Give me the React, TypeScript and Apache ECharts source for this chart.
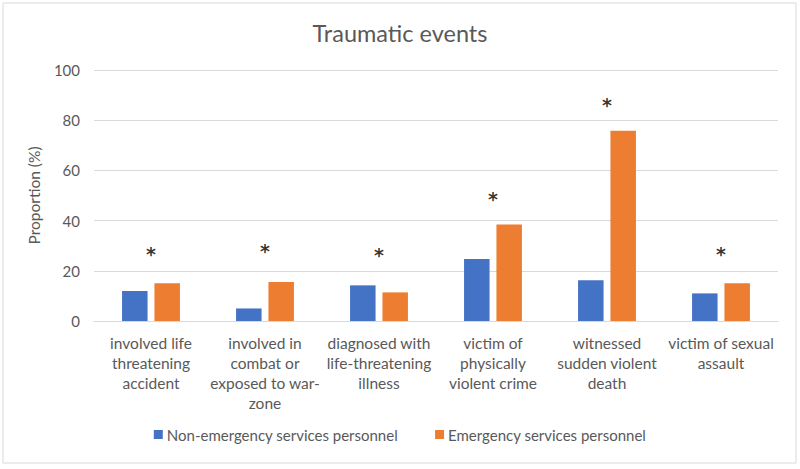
import React, { useEffect, useRef } from "react";
import * as echarts from "echarts";

const categories = [
  "involved life\nthreatening\naccident",
  "involved in\ncombat or\nexposed to war-\nzone",
  "diagnosed with\nlife-threatening\nillness",
  "victim of\nphysically\nviolent crime",
  "witnessed\nsudden violent\ndeath",
  "victim of sexual\nassault",
];
const nonEmergency = [12.0, 5.0, 14.2, 24.7, 16.2, 11.0];
const emergency = [15.0, 15.5, 11.4, 38.4, 75.8, 15.0];
const starLevels = [27.6, 28.5, 27.0, 49.4, 87.0, 27.6];
const seriesNames = ["Non-emergency services personnel", "Emergency services personnel"];
const yTicks = [0, 20, 40, 60, 80, 100];

const FONT = "Lato, 'Open Sans', sans-serif";
const GRAY = "#595959";

export default function App() {
  const ref = useRef<HTMLDivElement>(null);
  useEffect(() => {
    document.body.style.margin = "0";
    const chart = echarts.init(ref.current!, undefined, { renderer: "svg" });
    chart.setOption({
      animation: false,
      backgroundColor: "#ffffff",
      textStyle: { fontFamily: FONT },
      title: {
        text: "Traumatic events",
        left: "center",
        top: 16,
        textStyle: { fontFamily: FONT, fontSize: 23.5, fontWeight: "normal", color: GRAY },
      },
      graphic: [
        {
          type: "rect",
          shape: { x: 3, y: 3, width: 793, height: 460 },
          style: { fill: "none", stroke: "#d9d9d9", lineWidth: 1 },
          silent: true,
        },
      ],
      legend: {
        data: seriesNames,
        bottom: 22,
        left: "center",
        itemWidth: 9,
        itemHeight: 9,
        itemGap: 37,
        icon: "rect",
        textStyle: { fontFamily: FONT, fontSize: 15, color: GRAY, padding: [0, 0, 0, -1] },
      },
      grid: { left: 94, right: 22, top: 70, bottom: 148, containLabel: false },
      xAxis: {
        type: "category",
        data: categories,
        axisTick: { show: false },
        axisLine: { lineStyle: { color: "#d9d9d9" } },
        axisLabel: {
          interval: 0,
          fontFamily: FONT,
          fontSize: 15.5,
          lineHeight: 20,
          color: GRAY,
          margin: 12,
        },
      },
      yAxis: {
        type: "value",
        min: yTicks[0],
        max: yTicks[yTicks.length - 1],
        interval: 20,
        name: "Proportion (%)",
        nameLocation: "middle",
        nameGap: 52,
        nameTextStyle: { fontFamily: FONT, fontSize: 15.5, color: GRAY },
        axisLine: { show: false },
        axisTick: { show: false },
        splitLine: { lineStyle: { color: "#d9d9d9" } },
        axisLabel: { fontFamily: FONT, fontSize: 15, color: GRAY, margin: 14 },
      },
      series: [
        {
          name: seriesNames[0],
          type: "bar",
          data: nonEmergency,
          itemStyle: { color: "#4472C4" },
          barWidth: 25.5,
          barGap: "27%",
        },
        {
          name: seriesNames[1],
          type: "bar",
          data: emergency,
          itemStyle: { color: "#ED7D31" },
          barWidth: 25.5,
        },
        {
          name: "sig",
          type: "scatter",
          data: starLevels,
          symbolSize: 0,
          silent: true,
          label: {
            show: true,
            position: "inside",
            formatter: "*",
            fontFamily: "'DejaVu Sans', sans-serif",
            fontSize: 19,
            fontWeight: "bold",
            color: "#000000",
            textBorderWidth: 0,
            textBorderColor: "transparent",
            offset: [0, 2],
          },
        },
      ],
    });
    return () => chart.dispose();
  }, []);
  return <div ref={ref} style={{ width: 800, height: 469 }} />;
}
